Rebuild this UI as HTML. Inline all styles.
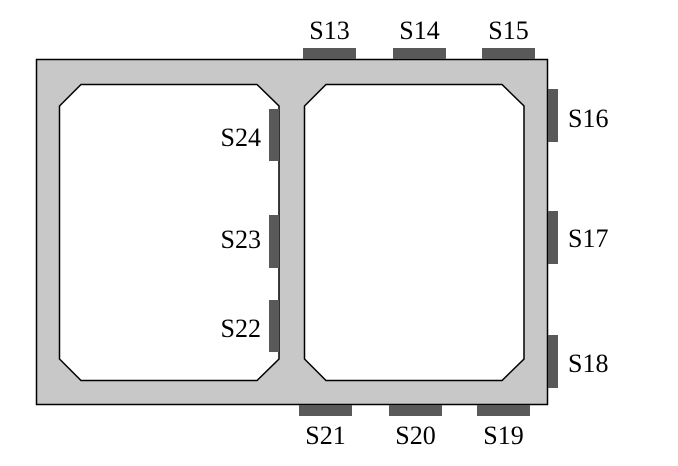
<!DOCTYPE html>
<html><head><style>html,body{margin:0;padding:0;background:#fff}</style></head>
<body>
<svg width="678" height="461" viewBox="0 0 678 461" xmlns="http://www.w3.org/2000/svg">
<rect x="36.5" y="59.5" width="511" height="345" fill="#c8c8c8" stroke="#000" stroke-width="1.5"/>
<polygon points="81,84.5 257,84.5 279,106 279,359 257,380.5 81,380.5 59.5,359 59.5,106" fill="#fff" stroke="#000" stroke-width="1.5"/>
<polygon points="326,84.5 502,84.5 524,106 524,359 502,380.5 326,380.5 304.5,359 304.5,106" fill="#fff" stroke="#000" stroke-width="1.5"/>
<g fill="#595959">
<rect x="303" y="48" width="53" height="11"/>
<rect x="393" y="48" width="53" height="11"/>
<rect x="482" y="48" width="53" height="11"/>
<rect x="299" y="405" width="53" height="11"/>
<rect x="389" y="405" width="53" height="11"/>
<rect x="477" y="405" width="53" height="11"/>
<rect x="548" y="89" width="10" height="53"/>
<rect x="548" y="211" width="10" height="53"/>
<rect x="548" y="335" width="10" height="53"/>
<rect x="269" y="109" width="10" height="52"/>
<rect x="269" y="215" width="10" height="53"/>
<rect x="269" y="300" width="10" height="52"/>
</g>
<g font-family="Liberation Serif, serif" font-size="26" fill="#000">
<text x="329.5" y="39" text-anchor="middle">S13</text>
<text x="419.5" y="39" text-anchor="middle">S14</text>
<text x="508.5" y="39" text-anchor="middle">S15</text>
<text x="325.5" y="444" text-anchor="middle">S21</text>
<text x="415.5" y="444" text-anchor="middle">S20</text>
<text x="503.5" y="444" text-anchor="middle">S19</text>
<text x="568" y="127">S16</text>
<text x="568" y="247">S17</text>
<text x="568" y="372">S18</text>
<text x="261" y="146" text-anchor="end">S24</text>
<text x="261" y="248" text-anchor="end">S23</text>
<text x="261" y="337" text-anchor="end">S22</text>
</g>
</svg>
</body></html>
